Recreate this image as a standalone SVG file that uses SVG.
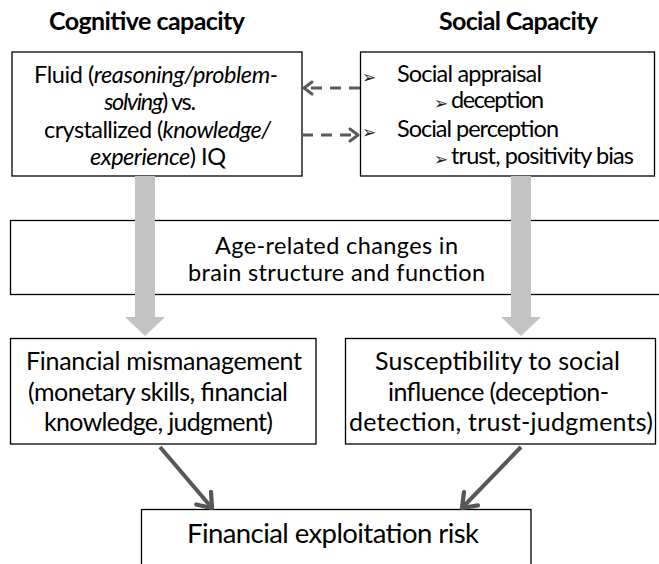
<svg xmlns="http://www.w3.org/2000/svg" width="659" height="564" viewBox="0 0 659 564">
<style>
text{font-family:Lato,"Liberation Sans",sans-serif;fill:#000}
.t{font-weight:bold;font-size:25px}
.s{font-size:23.5px}
.m{font-size:25px}
.b{font-size:27.5px}
.bul{font-family:"DejaVu Sans",sans-serif;font-size:17px;fill:#222}
.box{fill:#fff;stroke:#000;stroke-width:1.3}
.fat{fill:#c3c3c3}
.dash{stroke:#5a5a5a;stroke-width:3;stroke-dasharray:11 8;fill:none}
.solid{stroke:#575757;stroke-width:4;fill:none}
</style>
<defs>
<marker id="hd" markerUnits="userSpaceOnUse" markerWidth="20" markerHeight="20" viewBox="-12 -10 14 20" refX="0" refY="0" orient="auto">
<path d="M-8,-6 L0,0 L-8,6" fill="none" stroke="#5a5a5a" stroke-width="3" stroke-linecap="round" stroke-linejoin="round"/>
</marker>
<marker id="hs" markerUnits="userSpaceOnUse" markerWidth="30" markerHeight="30" viewBox="-16 -14 20 28" refX="0" refY="0" orient="auto">
<path d="M-12,-9 L0,0 L-12,9" fill="none" stroke="#575757" stroke-width="4" stroke-linecap="round" stroke-linejoin="round"/>
</marker>
</defs>

<g id="title-cognitive"><text class="t" x="49" y="30" textLength="196">Cognitive capacity</text></g>
<g id="title-social"><text class="t" x="439" y="30" textLength="159">Social Capacity</text></g>

<g id="middle">
<rect class="box" x="10.5" y="220.5" width="652" height="74" stroke-width="1.8"/>
<text class="s" x="215" y="254" textLength="243">Age-related changes in</text>
<text class="s" x="188" y="281" textLength="297">brain structure and function</text>
</g>

<g id="cognitive">
<rect class="box" x="12" y="52" width="290" height="124"/>
<text class="s" x="34" y="83" textLength="244">Fluid (<tspan font-style="italic">reasoning/problem-</tspan></text>
<text class="s" x="104" y="110" textLength="92"><tspan font-style="italic">solving</tspan>) vs.</text>
<text class="s" x="44" y="138" textLength="227">crystallized (<tspan font-style="italic">knowledge/</tspan></text>
<text class="s" x="90" y="165" textLength="136"><tspan font-style="italic">experience</tspan>) IQ</text>
</g>

<g id="social">
<rect class="box" x="360.5" y="52" width="294" height="124"/>
<text class="bul" x="362" y="83">➢</text>
<text class="s" x="397" y="82" textLength="145">Social appraisal</text>
<text class="bul" x="434" y="109">➢</text>
<text class="s" x="451" y="108" textLength="93">deception</text>
<text class="bul" x="362" y="138">➢</text>
<text class="s" x="397" y="137" textLength="162">Social perception</text>
<text class="bul" x="434" y="165">➢</text>
<text class="s" x="451" y="164" textLength="183">trust, positivity bias</text>
</g>

<g id="mismanagement">
<rect class="box" x="10.5" y="338.5" width="305.5" height="105.5"/>
<text class="m" x="26" y="370" textLength="276">Financial mismanagement</text>
<text class="m" x="28" y="400.5" textLength="260">(monetary skills, financial</text>
<text class="m" x="44" y="431" textLength="229">knowledge, judgment)</text>
</g>

<g id="susceptibility">
<rect class="box" x="345.5" y="338.5" width="310" height="105.5"/>
<text class="m" x="375" y="370" textLength="245">Susceptibility to social</text>
<text class="m" x="388" y="400.5" textLength="221">influence (deception-</text>
<text class="m" x="349" y="431" textLength="304">detection, trust-judgments)</text>
</g>

<g id="exploitation">
<rect class="box" x="141.5" y="509.5" width="389.5" height="70"/>
<text class="b" x="187" y="543" textLength="292">Financial exploitation risk</text>
</g>

<g id="connectors">
<polygon class="fat" points="135,176 155,176 155,317 165,317 145,336 125,317 135,317"/>
<polygon class="fat" points="511,176 531,176 531,317 541,317 521,336 501,317 511,317"/>
<line class="dash" x1="360" y1="88" x2="304" y2="88" marker-end="url(#hd)"/>
<line class="dash" x1="302" y1="135" x2="358" y2="135" marker-end="url(#hd)"/>
<line class="solid" x1="160" y1="447" x2="212" y2="508" marker-end="url(#hs)"/>
<line class="solid" x1="521" y1="447" x2="462" y2="508" marker-end="url(#hs)"/>
</g>
</svg>
